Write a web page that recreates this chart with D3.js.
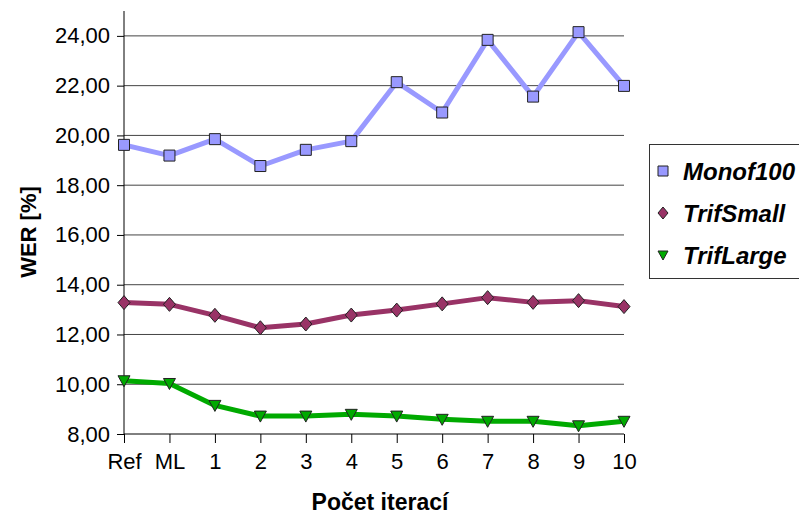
<!DOCTYPE html>
<html>
<head>
<meta charset="utf-8">
<script src="https://cdn.jsdelivr.net/npm/d3@7"></script>
<style>
  body { margin: 0; background: #fff; }
  text { font-family: "Liberation Sans", Arial, sans-serif; }
</style>
</head>
<body>
<div id="chart"></div>
<script>
const categories = ['Ref', 'ML', '1', '2', '3', '4', '5', '6', '7', '8', '9', '10'];
const monof100 = [19.62, 19.19, 19.85, 18.77, 19.42, 19.77, 22.14, 20.92, 23.84, 21.56, 24.15, 21.99];
const trifSmall = [13.28, 13.21, 12.77, 12.27, 12.42, 12.78, 12.98, 13.23, 13.48, 13.29, 13.36, 13.12];
const trifLarge = [10.14, 10.03, 9.15, 8.72, 8.72, 8.79, 8.72, 8.59, 8.51, 8.51, 8.33, 8.51];
const yTicks = [8, 10, 12, 14, 16, 18, 20, 22, 24];

const series = [
  {name: 'Monof100', values: monof100, color: '#9999ff', marker: 'square'},
  {name: 'TrifSmall', values: trifSmall, color: '#993366', marker: 'diamond'},
  {name: 'TrifLarge', values: trifLarge, color: '#00aa00', marker: 'triangle'}
];

const svg = d3.select('#chart')
              .append('svg')
              .attr('width', 799)
              .attr('height', 516);

const x = d3.scalePoint()
            .domain(categories)
            .range([124, 624]);

const y = d3.scaleLinear()
            .domain([8, 25])
            .range([434, 11]);

// gridlines
svg.append('g')
   .selectAll('line')
   .data(yTicks.filter(d => d > 8))
   .enter()
   .append('line')
   .attr('x1', 124)
   .attr('x2', 624)
   .attr('y1', d => y(d))
   .attr('y2', d => y(d))
   .attr('stroke', '#444')
   .attr('stroke-width', 1);

// y axis
const yAxis = svg.append('g')
   .attr('transform', 'translate(124,0)')
   .call(d3.axisLeft(y).tickValues(yTicks).tickSize(7).tickPadding(7)
           .tickFormat(d => d3.format('.2f')(d).replace('.', ',')));
yAxis.select('.domain').attr('d', `M0,${y(25)}V${y(8)}`).attr('stroke', '#000');
yAxis.selectAll('text').attr('font-size', '22px').attr('fill', '#000')
     .attr('font-family', '"Liberation Sans", Arial, sans-serif');

// x axis
const xAxis = svg.append('g')
   .attr('transform', `translate(0,${y(8)})`)
   .call(d3.axisBottom(x).tickSize(9).tickPadding(10).tickSizeOuter(0));
xAxis.select('.domain').attr('d', 'M124,0H624').attr('stroke', '#000');
xAxis.selectAll('text').attr('font-size', '22px').attr('fill', '#000')
     .attr('font-family', '"Liberation Sans", Arial, sans-serif');

// lines
const line = d3.line()
               .x((d, i) => x(categories[i]))
               .y(d => y(d));

series.forEach(s => {
  svg.append('path')
     .datum(s.values)
     .attr('d', line)
     .attr('fill', 'none')
     .attr('stroke', s.color)
     .attr('stroke-width', 5)
     .attr('stroke-linejoin', 'round');
});

function markerPath(type, size) {
  const h = size / 2;
  if (type === 'square') return `M${-h},${-h}H${h}V${h}H${-h}Z`;
  if (type === 'diamond') return `M0,${-h - 1}L${h},0L0,${h + 1}L${-h},0Z`;
  return `M${-h},${-h + 1}H${h}L0,${h}Z`;
}

series.forEach(s => {
  svg.append('g')
     .selectAll('path')
     .data(s.values)
     .enter()
     .append('path')
     .attr('transform', (d, i) => `translate(${x(categories[i])},${y(d)})`)
     .attr('d', markerPath(s.marker, s.marker === 'square' ? 11 : 12))
     .attr('fill', s.color)
     .attr('stroke', '#222')
     .attr('stroke-width', 1);
});

// axis titles
svg.append('text')
   .attr('transform', 'translate(36,232) rotate(-90)')
   .attr('text-anchor', 'middle')
   .attr('font-size', '22px')
   .attr('font-weight', 'bold')
   .text('WER [%]');

svg.append('text')
   .attr('x', 380)
   .attr('y', 510)
   .attr('text-anchor', 'middle')
   .attr('font-size', '23px')
   .attr('font-weight', 'bold')
   .text('Počet iterací');

// legend
const legend = svg.append('g');
legend.append('rect')
      .attr('x', 649.5)
      .attr('y', 144.5)
      .attr('width', 160)
      .attr('height', 134)
      .attr('fill', '#fff')
      .attr('stroke', '#333');

series.forEach((s, i) => {
  const cy = 171 + i * 42;
  legend.append('path')
        .attr('transform', `translate(663,${cy})`)
        .attr('d', markerPath(s.marker, 10))
        .attr('fill', s.color)
        .attr('stroke', '#222');
  legend.append('text')
        .attr('x', 683)
        .attr('y', cy + 9)
        .attr('font-size', '24px')
        .attr('font-weight', 'bold')
        .attr('font-style', 'italic')
        .text(s.name);
});
</script>
</body>
</html>
